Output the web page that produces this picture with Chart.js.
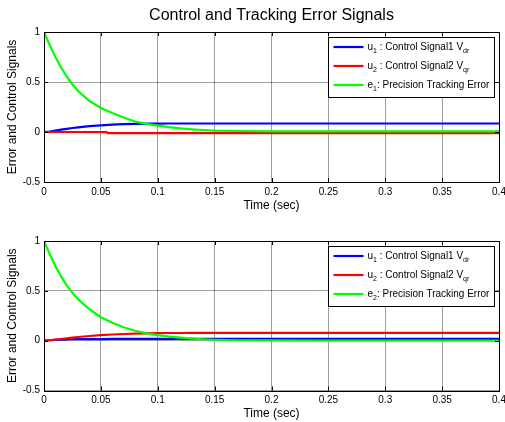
<!DOCTYPE html>
<html>
<head>
<meta charset="utf-8">
<script src="https://cdn.jsdelivr.net/npm/chart.js@4.4.0/dist/chart.umd.min.js"></script>
<style>
  html, body { margin: 0; padding: 0; background: #fff; }
  #wrap { position: relative; width: 505px; height: 422px; }
  .pane { position: absolute; left: 0; width: 505px; }
</style>
</head>
<body>
<div id="wrap">
  <div class="pane" style="top:0;height:215px"><canvas id="topChart"></canvas></div>
  <div class="pane" style="top:211px;height:211px"><canvas id="bottomChart"></canvas></div>
</div>
<script>
// ── data ────────────────────────────────────────────────────────
const TIME = [0, 0.005, 0.01, 0.015, 0.02, 0.025, 0.03, 0.04, 0.05, 0.06, 0.07, 0.08, 0.09,
              0.1, 0.11, 0.12, 0.13, 0.14, 0.15, 0.17, 0.2, 0.25, 0.3, 0.35, 0.4];

// top plot
const E1      = [1, 0.87, 0.75, 0.645, 0.555, 0.475, 0.41, 0.31, 0.24, 0.19, 0.145, 0.105, 0.082,
                 0.063, 0.048, 0.036, 0.027, 0.02, 0.014, 0.01, 0.007, 0.006, 0.006, 0.006, 0.006];
const U1_TOP  = [0, 0.005, 0.014, 0.023, 0.032, 0.04, 0.047, 0.058, 0.067, 0.073, 0.078, 0.081, 0.083,
                 0.084, 0.085, 0.085, 0.085, 0.085, 0.085, 0.085, 0.085, 0.085, 0.085, 0.085, 0.085];
const U2_TOP_T = [0, 0.03, 0.055, 0.056, 0.2, 0.4];
const U2_TOP   = [0, 0, -0.002, -0.011, -0.011, -0.011];

// bottom plot
const E2      = [1, 0.87, 0.75, 0.645, 0.555, 0.48, 0.415, 0.315, 0.235, 0.18, 0.135, 0.1, 0.073,
                 0.055, 0.04, 0.03, 0.021, 0.014, 0.009, 0.004, 0.002, 0.001, 0, 0, 0];
const U1_BOT  = [0, 0.004, 0.008, 0.011, 0.013, 0.014, 0.015, 0.016, 0.016, 0.017, 0.017, 0.017, 0.017,
                 0.017, 0.017, 0.017, 0.017, 0.017, 0.017, 0.017, 0.017, 0.017, 0.017, 0.017, 0.017];
const U2_BOT  = [0, 0.004, 0.01, 0.017, 0.024, 0.031, 0.037, 0.047, 0.055, 0.062, 0.067, 0.071, 0.074,
                 0.076, 0.077, 0.077, 0.078, 0.078, 0.078, 0.078, 0.078, 0.078, 0.078, 0.078, 0.078];

const X_TICKS  = [0, 0.05, 0.1, 0.15, 0.2, 0.25, 0.3, 0.35, 0.4];
const X_LABELS = ['0', '0.05', '0.1', '0.15', '0.2', '0.25', '0.3', '0.35', '0.4'];
const Y_TICKS  = [-0.5, 0, 0.5, 1];
const Y_LABELS = ['-0.5', '0', '0.5', '1'];

// legend labels: [text, subscript, text, subscript ...]
const LEG_U1 = ['u', '1', ' : Control Signal1 V', 'dr'];
const LEG_U2 = ['u', '2', ' : Control Signal2 V', 'qr'];
const LEG_E1 = ['e', '1', ': Precision Tracking Error'];
const LEG_E2 = ['e', '2', ': Precision Tracking Error'];

const FONT = "'Liberation Sans', Arial, sans-serif";
const BLUE = '#0000ff', RED = '#ff0000', GREEN = '#00ff00';

function pts(xs, ys) {
  return xs.map((x, i) => ({ x: x, y: ys[i] }));
}

// black box + inward tick marks, MATLAB style
const axesBox = {
  id: 'axesBox',
  afterDatasetsDraw(chart) {
    const { ctx, chartArea: a, scales } = chart;
    ctx.save();
    ctx.strokeStyle = '#000';
    ctx.lineWidth = 1;
    ctx.beginPath();
    X_TICKS.forEach(v => {
      const px = Math.round(scales.x.getPixelForValue(v)) + 0.5;
      ctx.moveTo(px, a.bottom); ctx.lineTo(px, a.bottom - 4);
      ctx.moveTo(px, a.top);    ctx.lineTo(px, a.top + 4);
    });
    Y_TICKS.forEach(v => {
      const py = Math.round(scales.y.getPixelForValue(v)) + 0.5;
      ctx.moveTo(a.left, py);  ctx.lineTo(a.left + 4, py);
      ctx.moveTo(a.right, py); ctx.lineTo(a.right - 4, py);
    });
    ctx.stroke();
    ctx.strokeRect(Math.round(a.left) + 0.5, Math.round(a.top) + 0.5,
                   Math.round(a.right - a.left), Math.round(a.bottom - a.top));
    ctx.restore();
  }
};

// boxed legend with subscripts
const boxLegend = {
  id: 'boxLegend',
  afterDraw(chart, args, opts) {
    const { ctx, chartArea: a } = chart;
    const w = 166, h = 60;
    const left = Math.round(a.right - 5 - w) + 0.5;
    const top = Math.round(a.top + 5) + 0.5;
    ctx.save();
    ctx.fillStyle = '#fff';
    ctx.fillRect(left, top, w, h);
    ctx.strokeStyle = '#000';
    ctx.lineWidth = 1;
    ctx.strokeRect(left, top, w, h);
    opts.entries.forEach((e, i) => {
      const y = top + 9.5 + i * 19;
      ctx.strokeStyle = e.color;
      ctx.lineWidth = 2.2;
      ctx.beginPath();
      ctx.moveTo(left + 5, y); ctx.lineTo(left + 35, y);
      ctx.stroke();
      let x = left + 39;
      ctx.fillStyle = '#000';
      ctx.textBaseline = 'middle';
      e.label.forEach((part, k) => {
        const sub = k % 2 === 1;
        ctx.font = (sub ? '7px ' : '10px ') + FONT;
        ctx.fillText(part, x, sub ? y + 4 : y);
        x += ctx.measureText(part).width;
      });
    });
    ctx.restore();
  }
};

function makeChart(id, series, legendEntries, withTitle, padTop, xHeight, xTitlePad) {
  return new Chart(document.getElementById(id), {
    type: 'line',
    data: {
      datasets: series.map(s => ({
        data: s.data,
        borderColor: s.color,
        borderWidth: 2.2,
        pointRadius: 0,
        tension: 0,
        fill: false,
        order: s.order
      }))
    },
    options: {
      responsive: true,
      maintainAspectRatio: false,
      animation: false,
      events: [],
      layout: { padding: { top: padTop, right: 6, left: 0, bottom: 0 } },
      plugins: {
        legend: { display: false },
        tooltip: { enabled: false },
        title: {
          display: withTitle,
          fullSize: false,
          text: 'Control and Tracking Error Signals',
          color: '#000',
          font: { family: FONT, size: 16, weight: 'normal' },
          padding: { top: 6, bottom: 6.8 }
        },
        boxLegend: { entries: legendEntries }
      },
      scales: {
        x: {
          type: 'linear',
          min: 0, max: 0.4,
          afterBuildTicks: s => { s.ticks = X_TICKS.map(v => ({ value: v })); },
          afterFit: s => { s.height = xHeight; s.paddingLeft = 0; s.paddingRight = 0; },
          ticks: {
            color: '#000', padding: 4, maxRotation: 0, autoSkip: false,
            font: { family: FONT, size: 10 },
            callback: (v, i) => X_LABELS[i]
          },
          grid: { color: 'rgba(0,0,0,0.38)', lineWidth: 1, drawTicks: false },
          border: { display: false },
          title: {
            display: true, text: 'Time (sec)', color: '#000',
            font: { family: FONT, size: 12 },
            padding: { top: 0, bottom: xTitlePad }
          }
        },
        y: {
          type: 'linear',
          min: -0.5, max: 1,
          afterBuildTicks: s => { s.ticks = Y_TICKS.map(v => ({ value: v })); },
          afterFit: s => { s.width = 44; s.paddingTop = 0; s.paddingBottom = 0; },
          ticks: {
            color: '#000', padding: 4, autoSkip: false,
            font: { family: FONT, size: 10 },
            callback: (v, i) => Y_LABELS[i]
          },
          grid: { color: 'rgba(0,0,0,0.38)', lineWidth: 1, drawTicks: false },
          border: { display: false },
          title: {
            display: true, text: 'Error and Control Signals', color: '#000',
            font: { family: FONT, size: 12 },
            padding: { top: 5, bottom: 0 }
          }
        }
      }
    },
    plugins: [axesBox, boxLegend]
  });
}

makeChart('topChart', [
  { data: pts(TIME, U1_TOP), color: BLUE, order: 3 },
  { data: pts(U2_TOP_T, U2_TOP), color: RED, order: 2 },
  { data: pts(TIME, E1), color: GREEN, order: 1 }
], [
  { label: LEG_U1, color: BLUE },
  { label: LEG_U2, color: RED },
  { label: LEG_E1, color: GREEN }
], true, 0, 33, 1.8);

makeChart('bottomChart', [
  { data: pts(TIME, U1_BOT), color: BLUE, order: 3 },
  { data: pts(TIME, U2_BOT), color: RED, order: 2 },
  { data: pts(TIME, E2), color: GREEN, order: 1 }
], [
  { label: LEG_U1, color: BLUE },
  { label: LEG_U2, color: RED },
  { label: LEG_E2, color: GREEN }
], false, 30, 31.5, 0.8);
</script>
</body>
</html>
